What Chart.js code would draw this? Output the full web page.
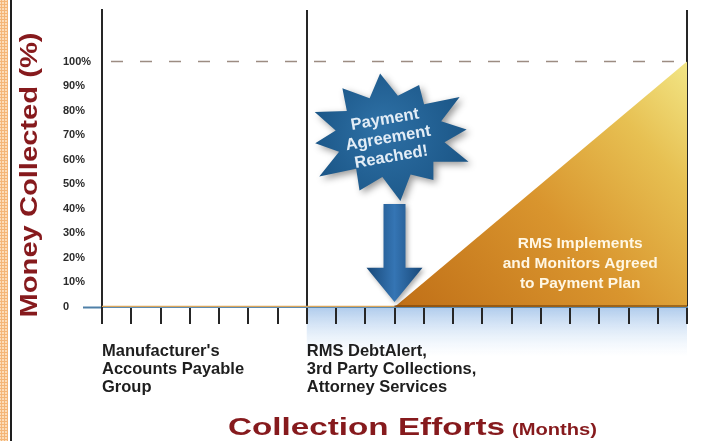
<!DOCTYPE html>
<html>
<head>
<meta charset="utf-8">
<script src="https://cdn.jsdelivr.net/npm/chart.js@4.4.1/dist/chart.umd.min.js"></script>
<style>
    html, body { margin: 0; padding: 0; background: #fff; }
    #wrap { position: relative; width: 701px; height: 441px; overflow: hidden; }
    #edge {
        position: absolute; left: 0; top: 0; width: 8px; height: 441px;
        background-color: #fcdcb8;
        background-image: radial-gradient(#f4b577 1px, transparent 1.2px);
        background-size: 3px 3px;
    }
    #rule { position: absolute; left: 10px; top: 0; width: 2px; height: 441px; background: #1e1e1e; }
    canvas { position: absolute; left: 0; top: 0; }
</style>
</head>
<body>
<div id="wrap">
    <div id="edge"></div>
    <div id="rule"></div>
    <canvas id="chart" width="701" height="441"></canvas>
</div>
<script>
// months on the x axis, % collected on the y axis
const months = [0, 20]
const phaseStarts = [0, 7]
const phaseLabels = [
    ["Manufacturer's", 'Accounts Payable', 'Group'],
    ['RMS DebtAlert,', '3rd Party Collections,', 'Attorney Services']
]
const dividers = [0, 7, 20]
const agreementMonth = 10
const collectedX = [0, 10, 20]
const collectedY = [0, 0, 100]
const targetY = 100
const yTicks = [0, 10, 20, 30, 40, 50, 60, 70, 80, 90, 100]
const burstText = ['Payment', 'Agreement', 'Reached!']
const planText = ['RMS Implements', 'and Monitors Agreed', 'to Payment Plan']

const FONT = '"Liberation Sans", Arial, sans-serif'
const RED = '#861a1d'

const collected = collectedX.map((x, i) => ({ x, y: collectedY[i] }))

function triangleFill(context) {
    const { chart } = context
    if (!chart.chartArea) return '#d89430'
    const xs = chart.scales.x, ys = chart.scales.y
    const g = chart.ctx.createLinearGradient(
        xs.getPixelForValue(agreementMonth), ys.getPixelForValue(0),
        xs.getPixelForValue(months[1]), ys.getPixelForValue(targetY) - 20)
    g.addColorStop(0, '#c06f17')
    g.addColorStop(0.45, '#d9952e')
    g.addColorStop(0.75, '#e7c052')
    g.addColorStop(1, '#f4ec8e')
    return g
}

const decorations = {
    id: 'decorations',
    beforeDraw(chart) {
        const { ctx, chartArea } = chart
        const xs = chart.scales.x
        const x0 = xs.getPixelForValue(phaseStarts[1]), x1 = xs.getPixelForValue(months[1])
        const g = ctx.createLinearGradient(0, chartArea.bottom, 0, chartArea.bottom + 50)
        g.addColorStop(0, 'rgba(170,200,235,0.95)')
        g.addColorStop(1, 'rgba(220,235,250,0)')
        ctx.save()
        ctx.fillStyle = g
        ctx.fillRect(x0, chartArea.bottom, x1 - x0, 50)
        ctx.restore()
    },
    afterDatasetsDraw(chart) {
        const { ctx } = chart
        const xs = chart.scales.x, ys = chart.scales.y
        const px = v => xs.getPixelForValue(v), py = v => ys.getPixelForValue(v)

        // arrow down onto the agreement month
        const ax = px(agreementMonth)
        const tip = py(2), headTop = py(16), shaftTop = py(42)
        ctx.save()
        ctx.shadowColor = 'rgba(0,0,0,0.35)'
        ctx.shadowBlur = 5
        ctx.shadowOffsetX = 2
        ctx.shadowOffsetY = 2
        const ag = ctx.createLinearGradient(ax - 28, 0, ax + 28, 0)
        ag.addColorStop(0, '#184878')
        ag.addColorStop(0.5, '#3575b4')
        ag.addColorStop(1, '#184878')
        ctx.fillStyle = ag
        ctx.beginPath()
        ctx.moveTo(ax - 11, shaftTop)
        ctx.lineTo(ax + 11, shaftTop)
        ctx.lineTo(ax + 11, headTop)
        ctx.lineTo(ax + 28, headTop)
        ctx.lineTo(ax, tip)
        ctx.lineTo(ax - 28, headTop)
        ctx.lineTo(ax - 11, headTop)
        ctx.closePath()
        ctx.fill()
        ctx.restore()

        // starburst
        const cx = px(9.85), cy = py(69.5)
        const wobble = [1.02, 0.9, 1.06, 0.94, 1.04, 0.88, 1.05, 0.95, 1.08, 0.92, 1, 0.97]
        ctx.save()
        ctx.shadowColor = 'rgba(0,0,0,0.4)'
        ctx.shadowBlur = 7
        ctx.shadowOffsetX = 3
        ctx.shadowOffsetY = 3
        const sg = ctx.createRadialGradient(cx - 10, cy - 10, 5, cx, cy, 80)
        sg.addColorStop(0, '#2d6fa4')
        sg.addColorStop(1, '#1b5687')
        ctx.fillStyle = sg
        ctx.beginPath()
        const n = 12
        for (let i = 0; i < n * 2; i++) {
            const a = -Math.PI / 2 - 0.12 + i * Math.PI / n
            const outer = i % 2 === 0
            const k = outer ? wobble[i / 2] : 1
            const rx = (outer ? 82 : 55) * k, ry = (outer ? 62 : 41) * k
            const x = cx + Math.cos(a) * rx, y = cy + Math.sin(a) * ry
            i === 0 ? ctx.moveTo(x, y) : ctx.lineTo(x, y)
        }
        ctx.closePath()
        ctx.fill()
        ctx.restore()

        ctx.save()
        ctx.translate(cx - 2, cy + 2)
        ctx.rotate(-0.17)
        ctx.font = `bold 16.5px ${FONT}`
        ctx.fillStyle = '#e3edf6'
        ctx.textAlign = 'center'
        ctx.textBaseline = 'middle'
        burstText.forEach((t, i) => ctx.fillText(t, 0, (i - 1) * 19))
        ctx.restore()

        // text on the collected area
        ctx.save()
        ctx.font = `bold 15.5px ${FONT}`
        ctx.fillStyle = '#fff7e4'
        ctx.textAlign = 'center'
        ctx.textBaseline = 'middle'
        const tx = px(16.35), ty = py(17.8)
        planText.forEach((t, i) => ctx.fillText(t, tx, ty + (i - 1) * 20))
        ctx.restore()
    },
    afterDraw(chart) {
        const { ctx } = chart
        // y axis title
        ctx.save()
        ctx.translate(37, 175)
        ctx.rotate(-Math.PI / 2)
        ctx.font = `bold 23px ${FONT}`
        const t1 = 'Money Collected (%)'
        const w1 = ctx.measureText(t1).width
        ctx.scale(285 / w1, 1)
        ctx.fillStyle = RED
        ctx.textAlign = 'center'
        ctx.textBaseline = 'alphabetic'
        ctx.fillText(t1, 0, 0)
        ctx.restore()

        // x axis title
        ctx.save()
        ctx.fillStyle = RED
        ctx.textBaseline = 'alphabetic'
        ctx.font = `bold 24px ${FONT}`
        const a = 'Collection Efforts'
        const wa = ctx.measureText(a).width
        ctx.save()
        ctx.translate(228, 435)
        ctx.scale(277 / wa, 1)
        ctx.fillText(a, 0, 0)
        ctx.restore()
        ctx.font = `bold 16px ${FONT}`
        const b = '(Months)'
        const wb = ctx.measureText(b).width
        ctx.translate(512, 435)
        ctx.scale(85 / wb, 1)
        ctx.fillText(b, 0, 0)
        ctx.restore()
    }
}

const chart = new Chart(document.getElementById('chart'), {
    type: 'line',
    data: {
        datasets: [
            {
                data: collected,
                fill: 'origin',
                backgroundColor: triangleFill,
                borderWidth: 2.5,
                segment: {
                    borderColor: c => c.p0.parsed.x < agreementMonth ? '#d9a65c' : 'transparent'
                },
                pointRadius: 0,
                order: 2
            },
            {
                data: [{ x: agreementMonth, y: 0 }, { x: months[1], y: 0 }],
                borderColor: 'rgba(110,60,10,0.55)',
                borderWidth: 4,
                pointRadius: 0,
                fill: false,
                order: 1
            },
            {
                data: months.map(x => ({ x, y: targetY })),
                borderColor: '#9c8c82',
                borderWidth: 1.6,
                borderDash: [12, 17],
                borderDashOffset: -9,
                pointRadius: 0,
                fill: false,
                order: 0
            }
        ]
    },
    options: {
        responsive: false,
        animation: false,
        layout: { padding: { left: 63, right: 14, top: 10, bottom: 0 } },
        plugins: { legend: { display: false }, tooltip: { enabled: false } },
        scales: {
            x: {
                type: 'linear',
                min: months[0],
                max: months[1],
                afterFit: scale => {
                    scale.height = 134
                    scale.paddingLeft = 0
                    scale.paddingRight = 0
                },
                border: { color: '#5d8bb2', width: 2 },
                grid: {
                    color: c => dividers.includes(c.tick.value) ? '#262626' : 'transparent',
                    tickColor: '#262626',
                    lineWidth: 2,
                    tickWidth: 2,
                    tickLength: 17
                },
                ticks: {
                    stepSize: 1,
                    autoSkip: false,
                    maxRotation: 0,
                    minRotation: 0,
                    align: 'start',
                    padding: 18,
                    color: '#1e1e1e',
                    font: { family: FONT, size: 16.5, weight: 'bold', lineHeight: 1.1 },
                    callback: value => {
                        const i = phaseStarts.indexOf(value)
                        return i >= 0 ? phaseLabels[i] : ''
                    }
                }
            },
            y: {
                min: 0,
                max: 121,
                afterFit: scale => { scale.width = 39 },
                afterBuildTicks: scale => { scale.ticks = yTicks.map(value => ({ value })) },
                border: { color: '#262626', width: 2 },
                grid: {
                    drawOnChartArea: false,
                    tickColor: c => c.tick.value === 0 ? '#4f80a8' : 'transparent',
                    tickWidth: 2,
                    tickLength: 19
                },
                ticks: {
                    crossAlign: 'far',
                    color: '#2b2b2b',
                    font: { family: FONT, size: 11, weight: 'bold' },
                    callback: value => value === 0 ? '0' : value + '%'
                }
            }
        }
    },
    plugins: [decorations]
})
</script>
</body>
</html>
